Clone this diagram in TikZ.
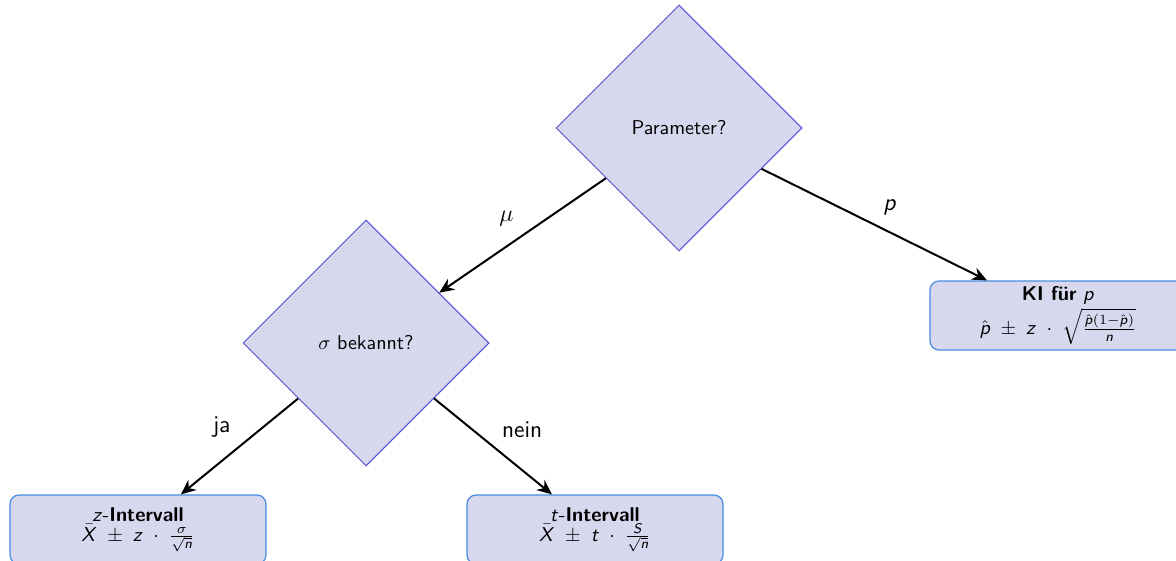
\documentclass[tikz,border=0pt]{standalone}
\usetikzlibrary{shapes.geometric,arrows.meta}
\DeclareMathAlphabet{\mathsfit}{OT1}{cmss}{m}{sl}
\newcommand{\sv}[1]{\mathsfit{#1}}
\definecolor{fillc}{RGB}{215,215,238}
\definecolor{diac}{RGB}{80,80,210}
\definecolor{boxc}{RGB}{70,140,225}
\def\pxu{0.5pt}
\tikzset{
  decision/.style={diamond, aspect=1, draw=diac, fill=fillc, line width=0.5pt,
    minimum width=246*\pxu, minimum height=246*\pxu, inner sep=0pt, font=\sffamily},
  result/.style={rectangle, rounded corners=9*\pxu, draw=boxc, fill=fillc, line width=0.6pt,
    minimum width=256*\pxu, minimum height=69*\pxu, align=center, font=\sffamily,
    inner sep=2pt},
  conn/.style={-{Stealth[length=7.5pt,width=6.5pt,inset=2.5pt]}, line width=1pt},
  lbl/.style={font=\sffamily\large, midway, inner sep=4pt}
}
\begin{document}
\begin{tikzpicture}[x=\pxu, y=-\pxu]
\useasboundingbox (0,0) rectangle (1176,561);
\clip (0,0) rectangle (1176,561);
\node[decision] (param) at (679,128) {Parameter?};
\node[decision] (sigma) at (366,343) {$\sigma$ bekannt?};
\node[result] (ki) at (1058,315.5) {\textbf{KI für} $\sv{p}$\\[1pt] $\hat{\sv{p}}\;\pm\;\sv{z}\;\cdot\;\sqrt{\frac{\hat{\sv{p}}(1-\hat{\sv{p}})}{\sv{n}}}$};
\node[result] (zint) at (138,529.5) {$\sv{z}$-\textbf{Intervall}\\[-2pt] $\bar{\sv{X}}\;\pm\;\sv{z}\;\cdot\;\frac{\sigma}{\sqrt{\sv{n}}}$};
\node[result] (tint) at (595,529.5) {$\sv{t}$-\textbf{Intervall}\\[-2pt] $\bar{\sv{X}}\;\pm\;\sv{t}\;\cdot\;\frac{\sv{S}}{\sqrt{\sv{n}}}$};
\draw[conn] (param) -- node[lbl, above left] {$\mu$} (sigma);
\draw[conn] (param) -- node[lbl, above right] {$\sv{p}$} (ki);
\draw[conn] (sigma) -- node[lbl, above left] {ja} (zint);
\draw[conn] (sigma) -- node[lbl, above right] {nein} (tint);
\end{tikzpicture}
\end{document}
